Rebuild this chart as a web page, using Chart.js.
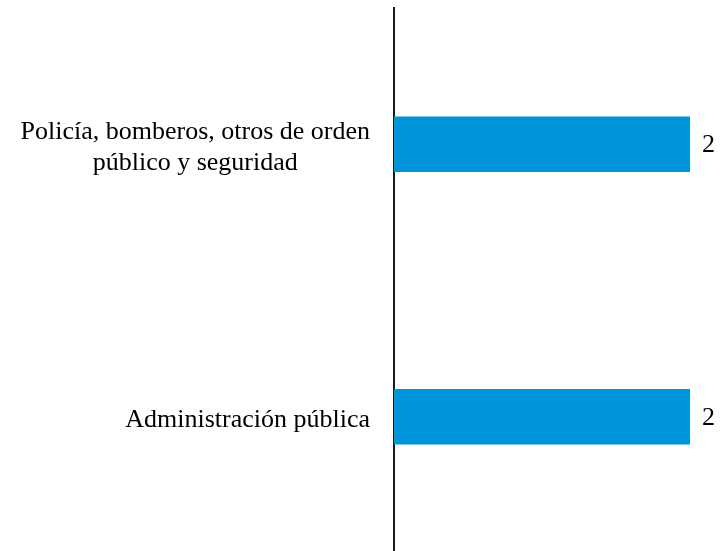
<!DOCTYPE html>
<html>
<head>
<meta charset="utf-8">
<script src="https://cdn.jsdelivr.net/npm/chart.js@4.4.1/dist/chart.umd.min.js"></script>
<style>
  html, body { margin: 0; padding: 0; background: #fff; overflow: hidden; }
  #wrap { width: 722px; height: 553px; }
</style>
</head>
<body>
<div id="wrap"><canvas id="mycanvas"></canvas></div>
<script>
// categories, one per bar (multi-line labels as arrays)
var categorias = [
    ["Policía, bomberos, otros de orden", "público y seguridad"],
    ["Administración pública"]
];
var valores = [2, 2];
var ejeMin = 0;
var ejeMax = 2;

var fuente = "'Liberation Serif', 'Times New Roman', serif";

// draws the category labels (right aligned block, lines centred) and the value labels
var etiquetas = {
    id: 'etiquetas',
    afterDatasetsDraw: function(chart) {
        var ctx = chart.ctx;
        var y = chart.scales.y;
        var meta = chart.getDatasetMeta(0);
        ctx.save();
        ctx.font = '26px ' + fuente;
        ctx.fillStyle = '#000';
        ctx.textBaseline = 'alphabetic';
        var derecha = chart.chartArea.left - 24;
        var altoLinea = 30.5;
        for (var i = 0; i < categorias.length; i++) {
            var lineas = categorias[i];
            var centro = y.getPixelForValue(i);
            var ancho = 0;
            for (var j = 0; j < lineas.length; j++) {
                ancho = Math.max(ancho, ctx.measureText(lineas[j]).width);
            }
            var cx = derecha - ancho / 2;
            var base = centro + 10 - (lineas.length - 1) * altoLinea / 2;
            ctx.textAlign = 'center';
            for (var j = 0; j < lineas.length; j++) {
                ctx.fillText(lineas[j], cx, base + j * altoLinea);
            }
            // value label
            var bar = meta.data[i];
            ctx.textAlign = 'left';
            ctx.fillText(String(valores[i]), bar.x + 12, bar.y + 8);
        }
        ctx.restore();
    }
};

var chartdata = {
    labels: categorias,
    datasets: [
        {
            label: 'Valor',
            backgroundColor: '#0094DA',
            borderWidth: 0,
            barThickness: 55,
            data: valores
        }
    ]
};

var ctx = document.getElementById('mycanvas');

var barGraph = new Chart(ctx, {
    type: 'bar',
    data: chartdata,
    plugins: [etiquetas],
    options: {
        indexAxis: 'y',
        responsive: true,
        maintainAspectRatio: false,
        animation: false,
        layout: {
            padding: { left: 386, right: 32, top: 8, bottom: 0 }
        },
        plugins: {
            legend: { display: false },
            tooltip: { enabled: false }
        },
        scales: {
            x: {
                display: false,
                min: ejeMin,
                max: ejeMax
            },
            y: {
                display: true,
                grid: { display: false },
                ticks: { display: false },
                border: { display: true, color: '#1a1a1a', width: 2 }
            }
        }
    }
});
</script>
</body>
</html>
